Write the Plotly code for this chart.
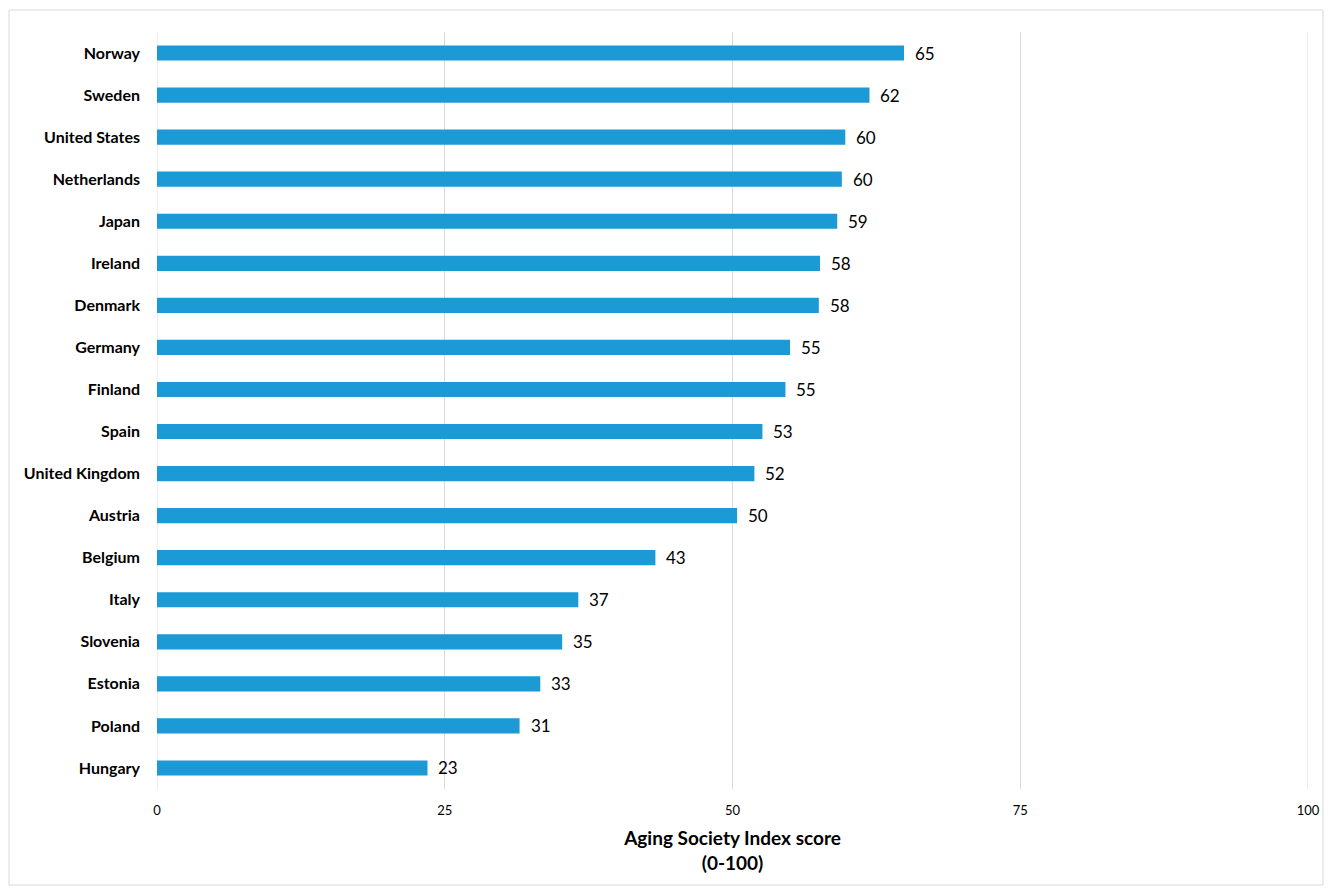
import plotly.graph_objects as go

countries = ["Norway", "Sweden", "United States", "Netherlands", "Japan", "Ireland",
             "Denmark", "Germany", "Finland", "Spain", "United Kingdom", "Austria",
             "Belgium", "Italy", "Slovenia", "Estonia", "Poland", "Hungary"]
scores = [64.9, 61.9, 59.8, 59.5, 59.1, 57.6, 57.5, 55.0, 54.6, 52.6, 51.9, 50.4,
          43.3, 36.6, 35.2, 33.3, 31.5, 23.5]
labels = ["65", "62", "60", "60", "59", "58", "58", "55", "55", "53", "52", "50",
          "43", "37", "35", "33", "31", "23"]
x_ticks = [0, 25, 50, 75, 100]

FONT = "Lato"
W, H = 1331, 895
ML, MR, MT, MB = 157, 23, 32, 106
GRID = "#d9d9d9"

fig = go.Figure()
fig.add_trace(go.Bar(
    x=scores, y=countries, orientation="h",
    marker=dict(color="#1b9ad6", line=dict(width=0)),
    width=0.36, hoverinfo="skip",
))

for c, v, t in zip(countries, scores, labels):
    fig.add_annotation(x=v, y=c, text=t, showarrow=False, xanchor="left",
                       yanchor="middle", xshift=9, yshift=0,
                       font=dict(family=FONT, size=17, color="#000000"))

# gridlines at the range edges (plotly hides them there)
for xv in (x_ticks[0], x_ticks[-1]):
    fig.add_shape(type="line", xref="x", yref="paper", x0=xv, x1=xv, y0=0, y1=1,
                  line=dict(color=GRID, width=1), layer="below")

pw = W - ML - MR
ph = H - MT - MB
fig.add_shape(type="rect", xref="paper", yref="paper",
              x0=(9 - ML) / pw, x1=(1323 - ML) / pw,
              y0=(H - MB - 885) / ph, y1=1 + (MT - 10) / ph,
              line=dict(color=GRID, width=1), fillcolor="rgba(0,0,0,0)", layer="below")

fig.update_layout(
    width=W, height=H,
    margin=dict(l=ML, r=MR, t=MT, b=MB, pad=0),
    paper_bgcolor="white", plot_bgcolor="white",
    showlegend=False,
    font=dict(family=FONT, color="#000000"),
    xaxis=dict(range=[0, 100], tickvals=x_ticks, ticktext=[str(v) for v in x_ticks],
               showgrid=True, gridcolor=GRID, gridwidth=1,
               zeroline=False, showline=False, ticks="",
               tickfont=dict(family=FONT, size=13, color="#000000"),
               ticklabelstandoff=12,
               title=dict(text="<b>Aging Society Index score<br>(0-100)</b>",
                          font=dict(family=FONT, size=19, color="#000000"), standoff=14)),
    yaxis=dict(categoryorder="array", categoryarray=countries, autorange="reversed",
               showgrid=False, zeroline=False, showline=False, ticks="",
               tickfont=dict(family=FONT, size=16, color="#000000"),
               ticklabelstandoff=16),
)
# bold category labels
fig.update_yaxes(tickvals=countries, ticktext=[f"<b>{c}</b>" for c in countries])

fig.write_html("out.html")
